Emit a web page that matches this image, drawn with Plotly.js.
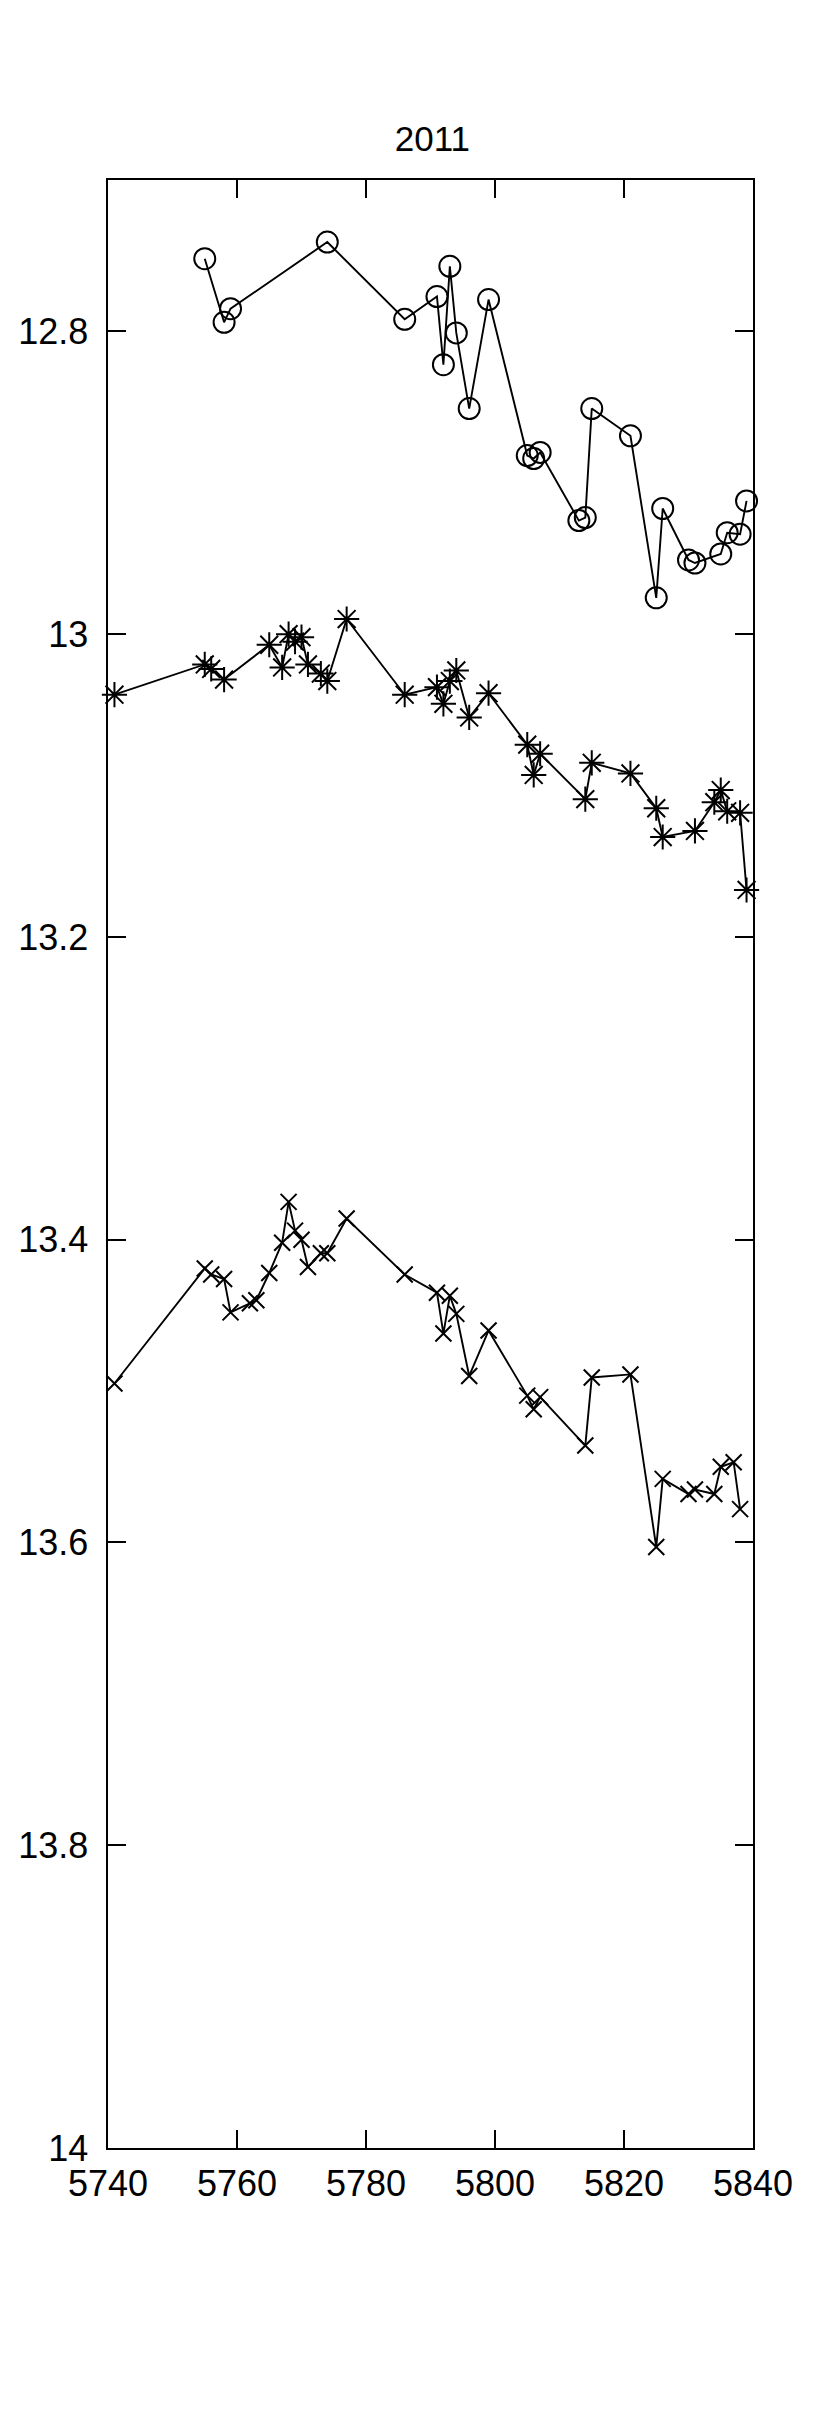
<!DOCTYPE html>
<html>
<head>
<meta charset="utf-8">
<script src="https://cdn.plot.ly/plotly-3.0.1.min.js"></script>
<style>
  body { margin: 0; background: #fff; }
  #plot { width: 830px; height: 2416px; }
</style>
</head>
<body>
<div id="plot"></div>
<script>
// day numbers and values
var circleDays = [5755, 5758, 5759, 5774, 5786, 5791, 5792, 5793, 5794, 5796, 5799, 5805, 5806,
  5807, 5813, 5814, 5815, 5821, 5825, 5826, 5830, 5831, 5835, 5836, 5838, 5839];
var circleVals = [12.752, 12.794, 12.785, 12.741, 12.792, 12.777, 12.822, 12.757, 12.801, 12.851,
  12.779, 12.882, 12.884, 12.880, 12.925, 12.923, 12.851, 12.869, 12.976, 12.917, 12.951, 12.953,
  12.947, 12.933, 12.934, 12.912];

var starDays = [5741, 5755, 5756, 5758, 5765, 5767, 5768, 5769, 5770, 5771, 5773, 5774, 5777,
  5786, 5791, 5792, 5793, 5794, 5796, 5799, 5805, 5806, 5807, 5814, 5815, 5821, 5825, 5826, 5831,
  5834, 5835, 5836, 5838, 5839];
var starVals = [13.040, 13.020, 13.023, 13.030, 13.007, 13.022, 13.000, 13.005, 13.002, 13.020,
  13.026, 13.031, 12.990, 13.040, 13.035, 13.046, 13.031, 13.024, 13.055, 13.039, 13.073, 13.093,
  13.079, 13.109, 13.085, 13.092, 13.115, 13.134, 13.130, 13.111, 13.103, 13.117, 13.118, 13.169];

var crossDays = [5741, 5755, 5756, 5758, 5759, 5762, 5763, 5765, 5767, 5768, 5769, 5770, 5771,
  5773, 5774, 5777, 5786, 5791, 5792, 5793, 5794, 5796, 5799, 5805, 5806, 5807, 5814, 5815, 5821,
  5825, 5826, 5830, 5831, 5834, 5835, 5837, 5838];
var crossVals = [13.495, 13.419, 13.423, 13.426, 13.448, 13.442, 13.440, 13.422, 13.402, 13.375,
  13.394, 13.400, 13.418, 13.409, 13.409, 13.386, 13.423, 13.435, 13.462, 13.437, 13.449, 13.490,
  13.460, 13.503, 13.512, 13.504, 13.536, 13.491, 13.489, 13.603, 13.558, 13.568, 13.565, 13.568,
  13.550, 13.547, 13.578];

var yTicks = [12.8, 13, 13.2, 13.4, 13.6, 13.8, 14];
var yTickText = ['12.8', '13', '13.2', '13.4', '13.6', '13.8', '14'];
var xTicks = [5740, 5760, 5780, 5800, 5820, 5840];

function series(x, y, symbol, size) {
  return {
    x: x, y: y,
    mode: 'lines+markers',
    type: 'scatter',
    cliponaxis: false,
    line: {color: '#000', width: 1.9},
    marker: {symbol: symbol, size: size, color: '#000',
             line: {color: '#000', width: 2}}
  };
}

var data = [
  series(circleDays, circleVals, 'circle-open', 21),
  series(starDays, starVals, 'asterisk-open', 21),
  series(crossDays, crossVals, 'x-thin-open', 16)
];

var layout = {
  width: 830,
  height: 2416,
  paper_bgcolor: '#fff',
  plot_bgcolor: '#fff',
  showlegend: false,
  font: {family: 'Liberation Sans, Arial, sans-serif', size: 36, color: '#000'},
  margin: {l: 108, r: 77, t: 180, b: 268, pad: 0},
  title: {text: '2011', x: 0.521, xanchor: 'center', y: 1 - 139 / 2416, yanchor: 'middle',
          yref: 'container', font: {size: 35, color: '#000'}},
  xaxis: {
    range: [5740, 5840],
    tickvals: xTicks,
    ticktext: xTicks.map(String),
    ticks: 'inside', ticklen: 18, tickwidth: 2, tickcolor: '#000',
    showline: true, linecolor: '#000', linewidth: 2.4, mirror: 'ticks',
    showgrid: false, zeroline: false,
    ticklabelstandoff: 2
  },
  yaxis: {
    range: [14, 12.7],
    tickvals: yTicks,
    ticktext: yTickText,
    ticks: 'inside', ticklen: 18, tickwidth: 2, tickcolor: '#000',
    showline: true, linecolor: '#000', linewidth: 2.4, mirror: 'ticks',
    showgrid: false, zeroline: false,
    ticklabelstandoff: 10
  }
};

Plotly.newPlot('plot', data, layout, {displayModeBar: false, staticPlot: true});
</script>
</body>
</html>
